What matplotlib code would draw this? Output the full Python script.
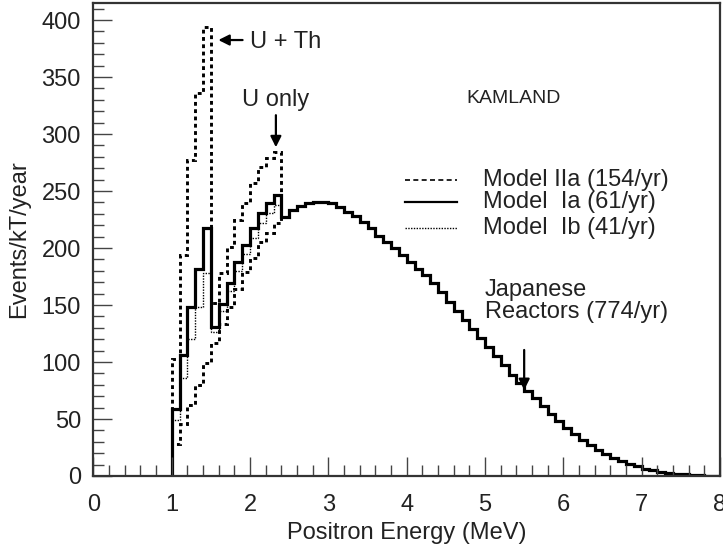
import numpy as np
import matplotlib.pyplot as plt
from matplotlib.ticker import MultipleLocator

plt.rcParams['font.family'] = ['Liberation Sans', 'DejaVu Sans']

# bin edges 1.0 .. 8.0 MeV, width 0.1
edges = np.round(np.arange(1.0, 8.01, 0.1), 2)

# japanese reactors only (dashed), 1.0 .. 7.9
reactor = [28, 46, 62, 80, 99, 117, 133, 148, 164, 179,
           191, 205, 213.5, 222, 227, 233, 237, 239.5, 240.5, 240.5,
           239.5, 236, 232, 228, 223, 217.5, 211, 205, 200, 194,
           188, 182, 176, 169, 161, 153, 145, 137, 129, 121,
           113, 105, 97, 89, 82, 75, 68, 61, 54, 48,
           42, 37, 32, 27, 23, 19.5, 16, 13, 10.5, 8.5,
           6.5, 5, 3.8, 2.8, 2, 1.4, 0.9, 0.5, 0.2, 0]

# reactor + geo, bins 1.0 .. 2.3 (above that all equal the reactor)
model_IIa = [103, 194, 277, 336, 394, 152, 178, 201, 224.5, 239.5, 257, 271, 279, 284]
model_Ia = [59, 106, 148, 182, 217.5, 131, 151, 169, 188, 203, 217.5, 231, 239.5, 246.5]
model_Ib = [49, 86, 120, 148, 178, 126, 145, 162, 180, 195, 209, 222, 231, 238]

n_geo = len(model_IIa)
IIa_full = np.concatenate([model_IIa, reactor[n_geo:]])
Ia_full = np.concatenate([model_Ia, reactor[n_geo:]])
Ib_full = np.concatenate([model_Ib, reactor[n_geo:]])

txt = '#222222'
fs = 17

fig = plt.figure(figsize=(7.23, 5.54), dpi=100)
ax = fig.add_axes([0.1292, 0.1408, 0.8666, 0.8538])

dash = (0, (1.3, 1.2))
ax.stairs(reactor, edges, color='black', lw=2.1, ls=dash)
ax.stairs(IIa_full, edges, color='black', lw=2.1, ls=dash)
ax.stairs(Ib_full, edges, color='black', lw=1.0, ls=(0, (1, 1)))
ax.stairs(Ia_full, edges, color='black', lw=2.3)

ax.set_xlim(0, 8)
ax.set_ylim(0, 415)
ax.xaxis.set_major_locator(MultipleLocator(1))
ax.xaxis.set_minor_locator(MultipleLocator(0.2))
ax.yaxis.set_major_locator(MultipleLocator(50))
ax.yaxis.set_minor_locator(MultipleLocator(10))
ax.tick_params(which='both', direction='in', width=1.0, labelsize=fs, colors='#444444',
               labelcolor=txt)
ax.tick_params(which='major', length=14)
ax.tick_params(axis='x', which='major', pad=13)
ax.tick_params(axis='y', which='major', pad=9)
ax.tick_params(which='minor', length=8)
for s in ax.spines.values():
    s.set_linewidth(1.6)
    s.set_color('#333333')

ax.set_xlabel('Positron Energy (MeV)', fontsize=fs, color=txt, labelpad=4)
ax.set_ylabel('Events/kT/year', fontsize=fs, color=txt, labelpad=8)

# legend drawn by hand
ax.plot([3.98, 4.64], [259.6, 259.6], color='black', lw=1.2, ls=(0, (3, 2)))
ax.plot([3.98, 4.64], [240, 240], color='black', lw=1.6)
ax.plot([3.98, 4.64], [218, 218], color='black', lw=1.0, ls=(0, (1, 1)))
ax.text(4.97, 259.6, 'Model IIa (154/yr)', fontsize=fs, color=txt, va='center')
ax.text(4.97, 240, 'Model  Ia (61/yr)', fontsize=fs, color=txt, va='center')
ax.text(4.97, 218, 'Model  Ib (41/yr)', fontsize=fs, color=txt, va='center')

ax.text(4.76, 331.6, 'KAMLAND', fontsize=14, color=txt, va='center')

arrow = dict(arrowstyle='-|>', color='black', lw=1.6, mutation_scale=16)
ax.annotate('', xy=(1.56, 382.5), xytext=(1.94, 382.5), arrowprops=arrow)
ax.text(2.0, 381, 'U + Th', fontsize=fs, color=txt, va='center')
ax.text(1.90, 330, 'U only', fontsize=fs, color=txt, va='center')
ax.annotate('', xy=(2.33, 286), xytext=(2.33, 319), arrowprops=arrow)
ax.text(5.0, 163, 'Japanese', fontsize=fs, color=txt, va='center')
ax.text(5.0, 144, 'Reactors (774/yr)', fontsize=fs, color=txt, va='center')
ax.annotate('', xy=(5.5, 73), xytext=(5.5, 113), arrowprops=arrow)

fig.savefig('out.png', dpi=100)
